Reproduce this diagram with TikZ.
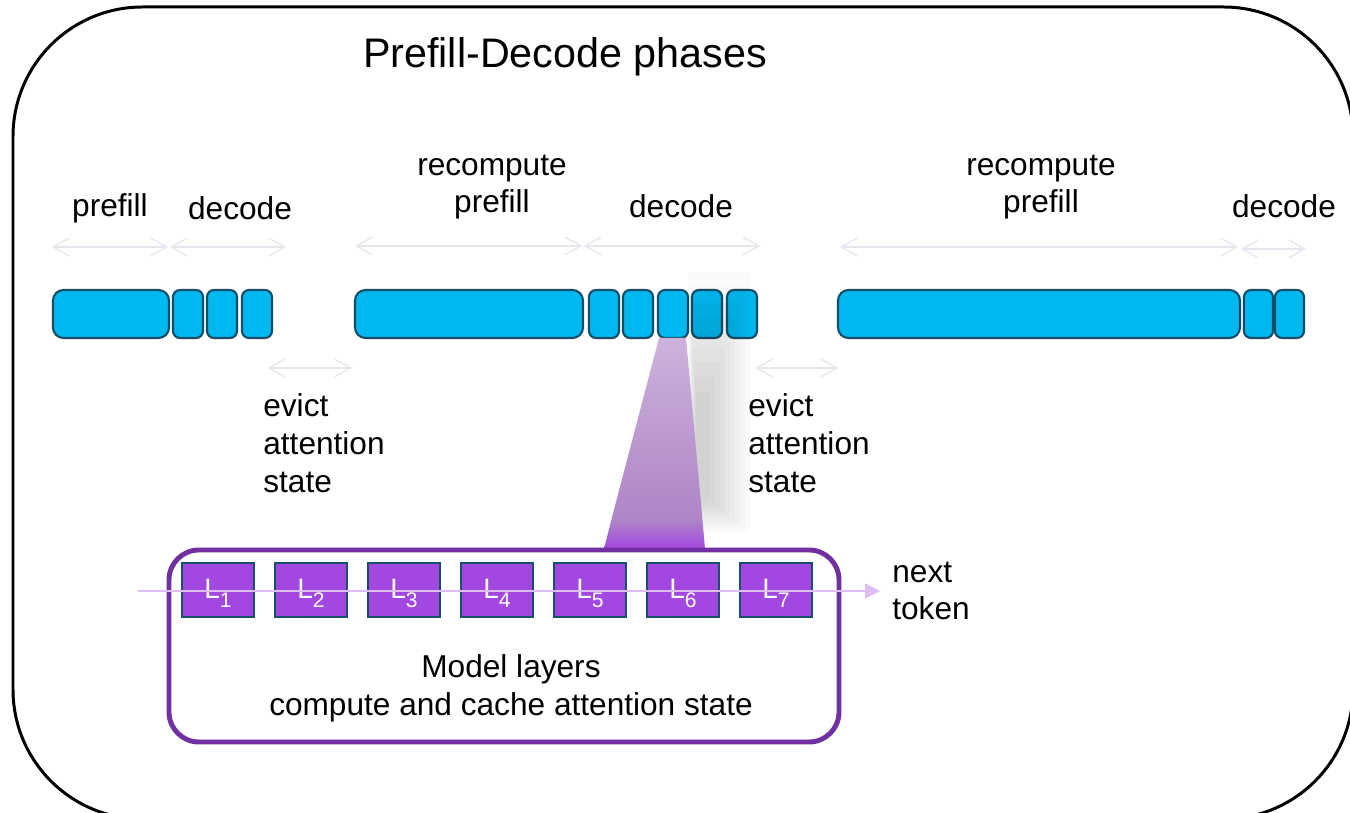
\documentclass[tikz,border=0pt]{standalone}
\usepackage{fontspec}
\setmainfont{Liberation Sans}
\usetikzlibrary{arrows.meta,positioning}

\definecolor{barblue}{HTML}{00B8F0}
\definecolor{baredge}{HTML}{114D66}
\definecolor{layerfill}{HTML}{A347E1}
\definecolor{layeredge}{HTML}{17506A}
\definecolor{boxpurple}{HTML}{7030A0}
\definecolor{flowpurple}{HTML}{DDBDF3}
\definecolor{spangray}{HTML}{E3E6ED}
\definecolor{traptop}{HTML}{CCB3DC}
\definecolor{trapmid}{HTML}{AE84C6}

\newcommand\labelfont{\fontsize{18}{21.5}\selectfont}
\newcommand\titlefont{\fontsize{23.5}{28}\selectfont}
\newcommand\layerfont{\fontsize{16}{16}\selectfont}
\newcommand\layername[1]{L\raisebox{-5pt}{\fontsize{12}{12}\selectfont #1}}

\tikzset{
  phasebar/.style={draw=baredge, fill=barblue, line width=1.2pt, rounded corners=4pt},
  longbar/.style={phasebar, rounded corners=6pt},
  spanarrow/.style={spangray, line width=0.7pt,
    {Straight Barb[length=9pt,width=10pt]}-{Straight Barb[length=9pt,width=10pt]}},
  layerbox/.style={draw=layeredge, fill=layerfill, line width=1.1pt,
    minimum width=40.8pt, minimum height=30.6pt, inner sep=0pt,
    text depth=1.6pt, text=white, font=\layerfont},
  lbl/.style={inner sep=0pt, font=\labelfont},
  flow/.style={flowpurple, line width=0.6pt, -{Triangle[length=8.5pt,width=8.5pt]}}
}

\begin{document}
\begin{tikzpicture}[x=0.02cm,y=-0.02cm]
  \useasboundingbox (0,0) rectangle (1350,813);
  \clip (0,0) rectangle (1350,813);
  \fill[white] (0,0) rectangle (1350,813);

  % outer frame
  \draw[line width=1.7pt, rounded corners=73.7pt] (13,7) rectangle (1353,819);
  \node[lbl, font=\titlefont] (title) at (565,57) {Prefill-Decode phases};

  % phase labels
  \node[lbl] (pf1) at (110,208) {prefill};
  \node[lbl] (dc1) at (240,208) {decode};
  \node[lbl, align=center] (pf2) at (492,187) {recompute\\prefill};
  \node[lbl] (dc2) at (681,206) {decode};
  \node[lbl, align=center] (pf3) at (1041,187) {recompute\\prefill};
  \node[lbl] (dc3) at (1284,206) {decode};

  % spans
  \foreach \a/\b/\y [count=\n] in {52/168/247, 170/286/247, 355/582/246, 584/760/246,
      840/1238/247, 1241/1306/249, 268/352/368, 755/838/368} {
    \coordinate (s\n a) at (\a,\y);
    \coordinate (s\n b) at (\b,\y);
    \draw[spanarrow] (s\n a) -- (s\n b);
  }

  % phase bars
  \draw[longbar] (53,290) rectangle (169,338);
  \foreach \x in {173,207,242} \draw[phasebar] (\x,290) rectangle +(30,48);
  \draw[longbar] (355,290) rectangle (583,338);
  \foreach \x in {589,623,658,692,727} \draw[phasebar] (\x,290) rectangle +(30,48);
  \draw[longbar] (838,290) rectangle (1240,338);
  \foreach \x in {1244,1275} \draw[phasebar] (\x,290) rectangle +(29,48);

  % evict labels
  \node[lbl, align=left, anchor=west] (ev1) at (263,443) {evict\\attention\\state};
  \node[lbl, align=left, anchor=west] (ev2) at (748,443) {evict\\attention\\state};

  % shadow of the zoom
  \foreach \k in {0,...,8}
    \fill[black, opacity=0.02] (688+\k,272+\k*15) rectangle (750-\k*5,532-\k*4);
  % zoom into one decode step
  \shade[top color=traptop, bottom color=trapmid]
    (659,338) -- (686,338) -- (702.5,520) -- (611.3,520) -- cycle;
  \shade[top color=trapmid, bottom color=layerfill]
    (611.3,520) -- (702.5,520) -- (705,549) -- (604,549) -- cycle;

  % model layers
  \draw[boxpurple, line width=2.8pt, rounded corners=17pt] (169,550) rectangle (839,742);
  \foreach \i in {1,...,7}
    \node[layerbox] (L\i) at ({218+93*(\i-1)},590) {\layername{\i}};
  \node[lbl, align=center] (model) at (511,688) {Model layers\\compute and cache attention state};
  \node[lbl, align=left, anchor=west] (next) at (892,591) {next\\token};
  \coordinate (flowin) at (138,591);
  \draw[flow] (flowin) -- ([xshift=-6.8pt]next.west);
\end{tikzpicture}
\end{document}
